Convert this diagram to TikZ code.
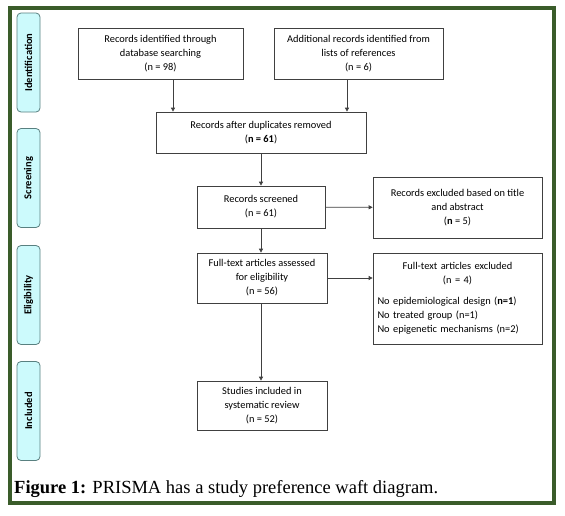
\documentclass[tikz,border=0pt]{standalone}
\usepackage{fontspec}
\setmainfont{Carlito}
\newfontfamily\capfont{Liberation Serif}
\usepackage{tikz}
\usetikzlibrary{arrows.meta,positioning,calc}
\usepackage{xcolor}
\definecolor{frame-green}{RGB}{58,92,42}
\definecolor{phase-cyan}{RGB}{204,250,252}
\definecolor{box-gray}{RGB}{64,64,64}

\begin{document}
\begin{tikzpicture}[x=1pt, y=-1pt,
    flowbox/.style={rectangle, draw=box-gray, line width=0.7pt, fill=white, align=center, font=\fontsize{10.4}{14}\selectfont, inner sep=2pt},
    phasebox/.style={rectangle, draw=gray!70!teal, line width=0.8pt, fill=phase-cyan, rounded corners=4pt, minimum width=23pt, minimum height=99pt, font=\fontsize{10.5}{12}\selectfont\bfseries},
    flowarrow/.style={-{Triangle[length=4pt,width=4pt]}, line width=0.7pt, draw=box-gray}]

    \useasboundingbox (0,0) rectangle (565,515);
    \fill[white] (0,0) rectangle (565,515);

    % Outer frame
    \draw[frame-green, line width=3.5pt] (10,8) rectangle (554,503);

    % Phases
    \node[phasebox] (ident) at (28.5,62.5) {\rotatebox{90}{Identification}};
    \node[phasebox] (screen) at (28.5,178) {\rotatebox{90}{Screening}};
    \node[phasebox] (elig) at (28.5,295) {\rotatebox{90}{Eligibility}};
    \node[phasebox] (incl) at (28.5,411) {\rotatebox{90}{Included}};

    % Identification boxes
    \node[flowbox, minimum width=165pt, minimum height=51pt] (dbsearch) at (160.5,53.5) {Records identified through\\database searching\\(n = 98)};
    \node[flowbox, minimum width=169pt, minimum height=51pt] (refs) at (358.5,53.5) {Additional records identified from\\lists of references\\(n = 6)};

    % Screening boxes
    \node[flowbox, minimum width=210pt, minimum height=41pt] (dupl) at (261,132.5) {Records after duplicates removed\\(\textbf{n = 61})};
    \node[flowbox, minimum width=128pt, minimum height=42pt] (screened) at (261,207) {Records screened\\(n = 61)};
    \node[flowbox, minimum width=169pt, minimum height=61pt] (exclabs) at (457.5,207.5) {Records excluded based on title\\and abstract\\(\textbf{n} = 5)};

    % Eligibility boxes
    \node[flowbox, minimum width=130pt, minimum height=50pt] (fulltext) at (262,278) {Full-text articles assessed\\for eligibility\\(n = 56)};
    \node[flowbox, minimum width=169pt, minimum height=91pt, text width=160pt, align=left] (exclfull) at (457.5,298.5) {{\centering Full-text articles excluded\\(n = 4)\par}\vspace{7pt}No epidemiological design (\textbf{n=1})\\No treated group (n=1)\\No epigenetic mechanisms (n=2)};

    % Included box
    \node[flowbox, minimum width=130pt, minimum height=49pt] (studies) at (262,405.5) {Studies included in\\systematic review\\(n = 52)};

    % Caption
    \node[anchor=base west, inner sep=0pt, font=\capfont\fontsize{18.5}{20}\selectfont] (caption) at (14,493) {\textbf{Figure 1:} PRISMA has a study preference waft diagram.};

    % Arrow columns
    \coordinate (dbcol) at (173,0);
    \coordinate (refcol) at (347,0);

    % Arrows
    \draw[flowarrow] (dbsearch.south -| dbcol) -- (dupl.north -| dbcol);
    \draw[flowarrow] (refs.south -| refcol) -- (dupl.north -| refcol);
    \draw[flowarrow] (dupl) -- (screened);
    \draw[flowarrow] (screened) -- (exclabs);
    \draw[flowarrow] (screened) -- (fulltext.north -| screened.south);
    \draw[flowarrow] (fulltext.east) -- (fulltext.east -| exclfull.west);
    \draw[flowarrow] (fulltext.south -| screened.south) -- (studies.north -| screened.south);
\end{tikzpicture}
\end{document}
